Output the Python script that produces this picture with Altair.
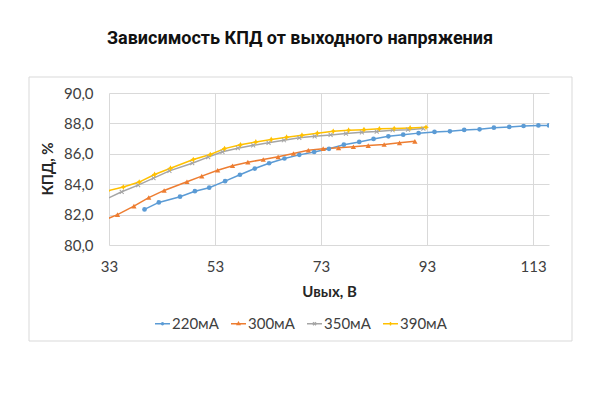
import altair as alt
import pandas as pd

series_names = ["220мА", "300мА", "350мА", "390мА"]
colors = ["#5B9BD5", "#ED7D31", "#A5A5A5", "#FFC000"]

x_220 = [39.7, 42.4, 46.4, 49.2, 51.9, 54.9, 57.7, 60.5, 63.2, 66.1, 68.9, 71.7, 74.5, 77.3,
         80.2, 82.9, 85.7, 88.5, 91.4, 94.4, 97.3, 100.0, 102.9, 105.6, 108.5, 111.2, 114.0, 116.0]
y_220 = [82.34, 82.80, 83.18, 83.54, 83.77, 84.20, 84.62, 85.03, 85.38, 85.69, 85.93, 86.12, 86.33, 86.60,
         86.78, 86.98, 87.15, 87.26, 87.36, 87.44, 87.48, 87.57, 87.61, 87.72, 87.77, 87.83, 87.87, 87.87]

x_300 = [31.8, 34.6, 37.7, 40.5, 43.4, 47.7, 50.5, 53.5, 56.3, 59.2, 62.1, 64.9, 67.8, 70.6,
         73.4, 76.3, 79.1, 81.9, 84.9, 87.8, 90.7]
y_300 = [81.60, 82.00, 82.56, 83.12, 83.59, 84.16, 84.53, 84.92, 85.21, 85.45, 85.62, 85.80, 86.02, 86.23,
         86.34, 86.39, 86.46, 86.54, 86.61, 86.72, 86.82]

x_350 = [32.5, 35.4, 38.5, 41.4, 44.4, 48.7, 51.7, 54.4, 57.3, 60.2, 63.1, 66.0, 68.9, 71.8,
         74.8, 77.7, 80.7, 83.5, 86.5, 89.4, 92.3]
y_350 = [83.03, 83.50, 83.94, 84.40, 84.88, 85.38, 85.78, 86.13, 86.37, 86.56, 86.72, 86.89, 87.05, 87.15,
         87.24, 87.33, 87.41, 87.46, 87.55, 87.59, 87.66]

x_390 = [32.8, 35.7, 38.7, 41.6, 44.6, 48.9, 52.1, 54.8, 57.8, 60.7, 63.6, 66.5, 69.4, 72.3,
         75.3, 78.2, 81.1, 84.0, 86.8, 89.8, 92.8]
y_390 = [83.57, 83.81, 84.14, 84.64, 85.05, 85.62, 85.95, 86.34, 86.59, 86.78, 86.94, 87.09, 87.22, 87.35,
         87.48, 87.55, 87.59, 87.64, 87.66, 87.70, 87.74]

x_ticks = [33, 53, 73, 93, 113]
y_ticks = [80, 82, 84, 86, 88, 90]
y_title = "КПД, %"

rows = []
for name, xs, ys in zip(series_names, [x_220, x_300, x_350, x_390], [y_220, y_300, y_350, y_390]):
    for xv, yv in zip(xs, ys):
        rows.append({"series": name, "label": name, "u": xv, "eff": yv})
df = pd.DataFrame(rows)

# chart marker shapes
x_poly = "M-1,-0.7L-0.7,-1L1,0.7L0.7,1ZM0.7,-1L1,-0.7L-0.7,1L-1,0.7Z"
star4 = "M0,-1L0.35,-0.35L1,0L0.35,0.35L0,1L-0.35,0.35L-1,0L-0.35,-0.35Z"
chart_shapes = ["circle", "triangle-up", x_poly, star4]
chart_sizes = [22, 28, 22, 34]

# legend symbols: short line with a small marker in the middle
legend_paths = [
    "M-1,0H1M0.14,0L0.1,0.1L0,0.14L-0.1,0.1L-0.14,0L-0.1,-0.1L0,-0.14L0.1,-0.1Z",
    "M-1,0H1M0,-0.2L0.18,0.12L-0.18,0.12Z",
    "M-1,0H1M-0.2,-0.2L0.2,0.2M-0.2,0.2L0.2,-0.2",
    "M-1,0H1M0,-0.24V0.24M0.12,0L0,0.12L-0.12,0L0,-0.12Z",
]

label_font = "Lato"
x_axis = alt.Axis(values=x_ticks, format="d", title="Uвых, В", labelFont=label_font, labelFontSize=15,
                  labelColor="#404040", titleFont=label_font, titleFontSize=15, titleFontWeight="bold",
                  titleColor="#262626", grid=True, gridColor="#D9D9D9", gridWidth=1, domain=False,
                  ticks=False, tickSize=0, labelPadding=14, titlePadding=10, labelFlush=False,
                  labelOverlap=False)
y_axis = alt.Axis(values=y_ticks, title=None, labelExpr="replace(format(datum.value, '.1f'), '.', ',')",
                  labelFont=label_font, labelFontSize=15, labelColor="#404040", grid=True,
                  gridColor="#D9D9D9", gridWidth=1, domain=False, ticks=False, tickSize=0,
                  labelPadding=16)

xscale = alt.Scale(domain=[33, 116], nice=False, zero=False)
yscale = alt.Scale(domain=[80, 90], nice=False, zero=False)

x_enc = alt.X("u:Q", scale=xscale, axis=x_axis)
y_enc = alt.Y("eff:Q", scale=yscale, axis=y_axis)
color = alt.Color("series:N", scale=alt.Scale(domain=series_names, range=colors), legend=None)

base = alt.Chart(df)

frame = alt.Chart(pd.DataFrame({"f": [0]})).mark_rect(
    fill="transparent", stroke="#D9D9D9", strokeWidth=1, clip=False
).encode(x=alt.value(-80), x2=alt.value(463), y=alt.value(-16), y2=alt.value(248))

y_title_layer = alt.Chart(pd.DataFrame({"t": [y_title]})).mark_text(
    angle=270, align="center", baseline="middle", font=label_font, fontSize=15,
    fontWeight="bold", color="#262626", clip=False
).encode(text="t:N", x=alt.value(-61), y=alt.value(76))

lines = base.mark_line(strokeWidth=1.5, clip=True).encode(x=x_enc, y=y_enc, color=color)

point_layers = []
for name, shp, sz in zip(series_names, chart_shapes, chart_sizes):
    point_layers.append(
        base.transform_filter(alt.datum.series == name)
        .mark_point(filled=True, opacity=1, clip=True, shape=shp, size=sz)
        .encode(x=x_enc, y=y_enc, color=color)
    )

leg = alt.Legend(title=None, orient="none", legendX=45, legendY=222, direction="horizontal",
                 symbolSize=225, symbolStrokeWidth=1.3, labelFont=label_font, labelFontSize=15,
                 labelColor="#404040", columnPadding=9, labelOffset=1, padding=0)

legend_layer = base.transform_calculate(hide="0").mark_point(
    filled=False, clip=True, strokeWidth=1.3, opacity=1
).encode(
    x=x_enc,
    y=alt.Y("hide:Q", scale=yscale, axis=y_axis),
    stroke=alt.Stroke("label:N", scale=alt.Scale(range=colors), legend=leg),
    shape=alt.Shape("label:N", scale=alt.Scale(range=legend_paths), legend=leg),
)

chart = alt.layer(frame, lines, *point_layers, legend_layer, y_title_layer).properties(
    width=440,
    height=152,
    padding={"left": 101, "top": 85, "right": 43, "bottom": 147},
    autosize="none",
    title=alt.TitleParams(
        text="Зависимость КПД от выходного напряжения",
        font="Roboto", fontSize=18, fontWeight="bold", color="#111111",
        anchor="middle", dx=-29, offset=29,
    ),
).configure_view(stroke=None)

chart.save("out.html", embed_options={"renderer": "svg", "actions": False})
